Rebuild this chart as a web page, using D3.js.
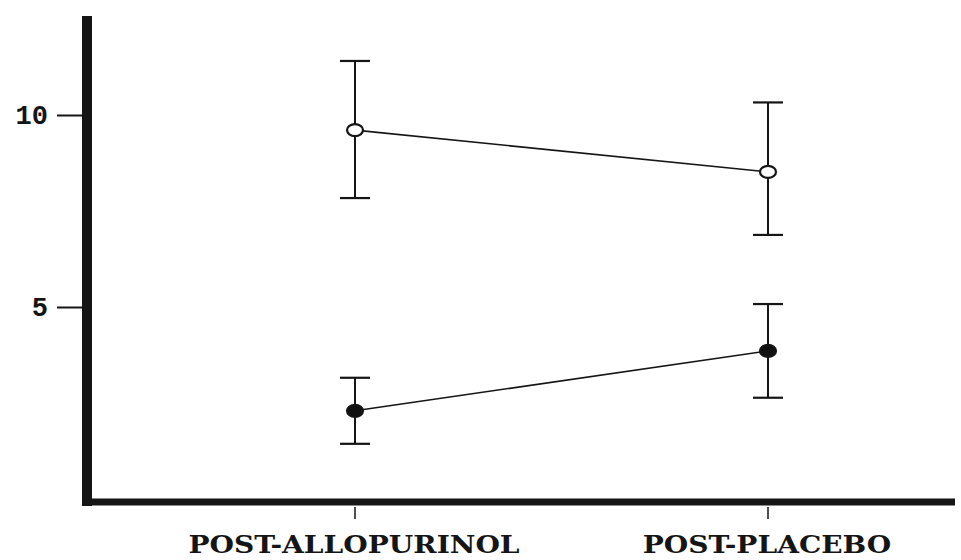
<!DOCTYPE html>
<html>
<head>
<meta charset="utf-8">
<script src="https://cdn.jsdelivr.net/npm/d3@7"></script>
<style>
  html, body { margin: 0; padding: 0; background: #fff; }
  svg { display: block; }
</style>
</head>
<body>
<div id="chart"></div>
<script>
// data
var categories = ['POST-ALLOPURINOL', 'POST-PLACEBO'];

var openMean  = [9.62, 8.53];
var openHigh  = [11.42, 10.34];
var openLow   = [7.85, 6.89];

var filledMean = [2.31, 3.87];
var filledHigh = [3.17, 5.09];
var filledLow  = [1.45, 2.65];

var yTicks = [5, 10];

var series = [
    { 'name': 'open',   'fill': '#fff', 'mean': openMean,   'high': openHigh,   'low': openLow },
    { 'name': 'filled', 'fill': '#111', 'mean': filledMean, 'high': filledHigh, 'low': filledLow }
];

var width  = 961;
var height = 560;

var axisLeft   = 87;
var axisBottom = 502;
var axisRight  = 955;
var axisTop    = 16;

var ink = '#151515';

var svg = d3.select('#chart').append('svg')
    .attr('width', width)
    .attr('height', height);

var x = d3.scalePoint()
    .domain(categories)
    .range([355, 768]);

var y = d3.scaleLinear()
    .domain([0, 10])
    .range([499.5, 115.5]);

// axes drawn as heavy strokes, like the original plot
svg.append('line')
    .attr('x1', axisLeft).attr('x2', axisLeft)
    .attr('y1', axisTop).attr('y2', axisBottom + 4)
    .attr('stroke', ink)
    .attr('stroke-width', 10);

svg.append('line')
    .attr('x1', axisLeft - 5).attr('x2', axisRight)
    .attr('y1', axisBottom).attr('y2', axisBottom)
    .attr('stroke', ink)
    .attr('stroke-width', 7);

// y ticks
var yt = svg.append('g');
yTicks.forEach(function(t) {
    yt.append('line')
        .attr('x1', 57).attr('x2', axisLeft - 5)
        .attr('y1', y(t)).attr('y2', y(t))
        .attr('stroke', ink)
        .attr('stroke-width', 2);
    yt.append('text')
        .attr('x', 48)
        .attr('y', y(t))
        .attr('dy', '0.33em')
        .attr('text-anchor', 'end')
        .attr('font-family', 'Liberation Mono, DejaVu Sans Mono, monospace')
        .attr('font-weight', 'bold')
        .attr('font-size', 27)
        .attr('fill', ink)
        .text(t);
});

// x ticks and labels
var xt = svg.append('g');
categories.forEach(function(c) {
    xt.append('line')
        .attr('x1', x(c)).attr('x2', x(c))
        .attr('y1', axisBottom + 5).attr('y2', axisBottom + 17)
        .attr('stroke', ink)
        .attr('stroke-width', 1.5);
    xt.append('text')
        .attr('x', x(c) - 1)
        .attr('y', 553)
        .attr('text-anchor', 'middle')
        .attr('font-family', 'DejaVu Serif, Liberation Serif, serif')
        .attr('font-weight', 'bold')
        .attr('font-size', 24)
        .attr('fill', ink)
        .attr('textLength', c.length * 20.7)
        .attr('lengthAdjust', 'spacingAndGlyphs')
        .text(c);
});

var line = d3.line()
    .x(function(d) { return x(d.cat); })
    .y(function(d) { return y(d.v); });

series.forEach(function(s) {
    var pts = categories.map(function(c, i) {
        return { 'cat': c, 'v': s.mean[i], 'hi': s.high[i], 'lo': s.low[i] };
    });

    var g = svg.append('g').attr('class', 'series-' + s.name);

    g.append('path')
        .datum(pts)
        .attr('d', line)
        .attr('fill', 'none')
        .attr('stroke', ink)
        .attr('stroke-width', 1.6);

    pts.forEach(function(p) {
        var cx = x(p.cat);
        g.append('line')
            .attr('x1', cx).attr('x2', cx)
            .attr('y1', y(p.hi)).attr('y2', y(p.lo))
            .attr('stroke', ink).attr('stroke-width', 2);
        [p.hi, p.lo].forEach(function(v) {
            g.append('line')
                .attr('x1', cx - 15).attr('x2', cx + 15)
                .attr('y1', y(v)).attr('y2', y(v))
                .attr('stroke', ink).attr('stroke-width', 2.2);
        });
        g.append('ellipse')
            .attr('cx', cx)
            .attr('cy', y(p.v))
            .attr('rx', 8)
            .attr('ry', 6)
            .attr('fill', s.fill)
            .attr('stroke', ink)
            .attr('stroke-width', 2.2);
    });
});
</script>
</body>
</html>
